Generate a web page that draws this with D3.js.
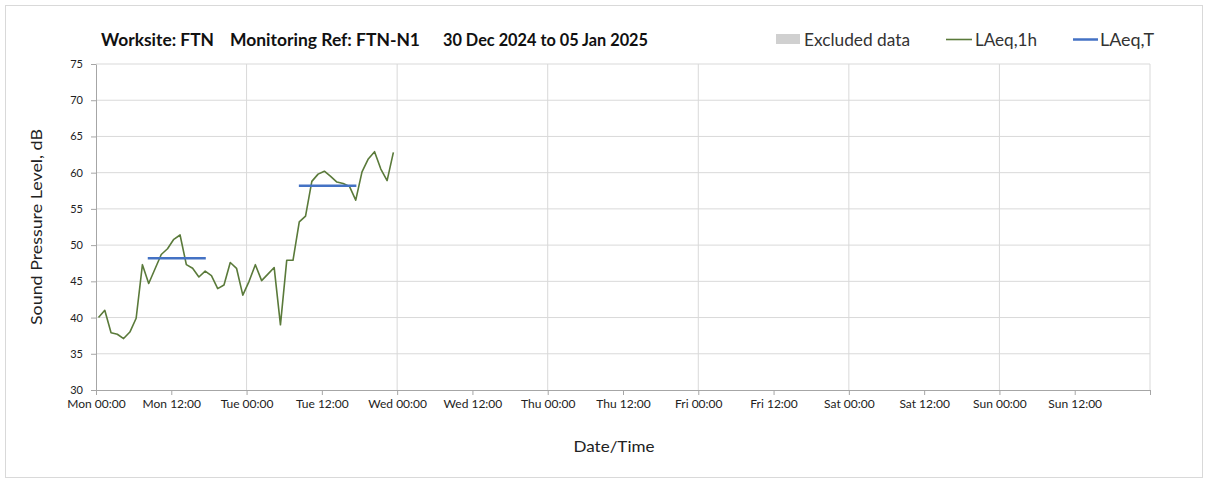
<!DOCTYPE html>
<html>
<head>
<meta charset="utf-8">
<script src="https://cdn.jsdelivr.net/npm/d3@7"></script>
<style>
  body { margin: 0; background: #fff; font-family: Lato, "Open Sans", sans-serif; }
  .tick text { font-family: Lato, sans-serif; fill: #222; }
</style>
</head>
<body>
<div id="chart"></div>
<script>
var svgWidth = 1208;
var svgHeight = 481;

var margin = { top: 64, right: 58, bottom: 91, left: 96 };
var width = svgWidth - margin.left - margin.right;
var height = svgHeight - margin.top - margin.bottom;

// chart data
var titleParts = ["Worksite: FTN", "Monitoring Ref: FTN-N1", "30 Dec 2024 to 05 Jan 2025"];
var legendLabels = ["Excluded data", "LAeq,1h", "LAeq,T"];
var yTicks = [30, 35, 40, 45, 50, 55, 60, 65, 70, 75];
var periodStart = "2024-12-30T00:00";
var periodEnd = "2025-01-06T00:00";
var hourlyStart = "2024-12-30T00:24";  // first hourly LAeq point
var laeq1h = [
  40.0, 41.0, 37.9, 37.7, 37.1, 38.0, 39.9, 47.3, 44.7, 46.7, 48.7, 49.5,
  50.8, 51.4, 47.3, 46.8, 45.6, 46.4, 45.8, 44.0, 44.5, 47.6, 46.8, 43.1,
  45.0, 47.3, 45.1, 46.0, 46.9, 39.0, 47.9, 47.9, 53.2, 54.0, 58.8, 59.8,
  60.2, 59.5, 58.7, 58.5, 58.1, 56.2, 60.1, 61.9, 62.9, 60.5, 58.9, 62.8
];
var laeqTStart = ["2024-12-30T08:15", "2024-12-31T08:20"];
var laeqTEnd = ["2024-12-30T17:30", "2024-12-31T17:30"];
var laeqTValue = [48.2, 58.2];

var parseTime = d3.timeParse("%Y-%m-%dT%H:%M");
var t0 = parseTime(hourlyStart);
var hourly = laeq1h.map(function(v, i) {
  return { time: d3.timeHour.offset(t0, i), value: v };
});
var periods = laeqTValue.map(function(v, i) {
  return { start: parseTime(laeqTStart[i]), end: parseTime(laeqTEnd[i]), value: v };
});

var svg = d3.select("#chart")
  .append("svg")
  .attr("width", svgWidth)
  .attr("height", svgHeight);

// outer frame
svg.append("rect")
  .attr("x", 5.5).attr("y", 5.5)
  .attr("width", svgWidth - 11).attr("height", svgHeight - 9)
  .attr("fill", "none")
  .attr("stroke", "#d9d9d9");

var chartGroup = svg.append("g")
  .attr("transform", `translate(${margin.left}, ${margin.top})`);

var xScale = d3.scaleTime()
  .domain([parseTime(periodStart), parseTime(periodEnd)])
  .range([0, width]);

var yScale = d3.scaleLinear()
  .domain([30, 75])
  .range([height, 0]);

// horizontal gridlines
chartGroup.append("g")
  .selectAll("line")
  .data(yTicks.slice(1))
  .enter()
  .append("line")
  .attr("x1", 0).attr("x2", width)
  .attr("y1", d => yScale(d)).attr("y2", d => yScale(d))
  .attr("stroke", "#d9d9d9");

// vertical gridlines at midnight
var days = d3.timeDay.range(xScale.domain()[0], xScale.domain()[1]).slice(1);
days.push(xScale.domain()[1]);
chartGroup.append("g")
  .selectAll("line")
  .data(days)
  .enter()
  .append("line")
  .attr("x1", d => xScale(d)).attr("x2", d => xScale(d))
  .attr("y1", 0).attr("y2", height)
  .attr("stroke", "#d9d9d9");

// axes
var xTickValues = d3.timeHour.every(12).range(xScale.domain()[0], xScale.domain()[1]);
xTickValues.push(xScale.domain()[1]);
var bottomAxis = d3.axisBottom(xScale)
  .tickValues(xTickValues)
  .tickSize(5)
  .tickSizeOuter(0)
  .tickFormat(function(d) {
    return +d === +xScale.domain()[1] ? "" : d3.timeFormat("%a %H:%M")(d);
  });
var leftAxis = d3.axisLeft(yScale)
  .tickValues(yTicks)
  .tickSize(5)
  .tickSizeOuter(0);

var xAxisG = chartGroup.append("g")
  .attr("transform", `translate(0, ${height})`)
  .call(bottomAxis);
xAxisG.selectAll(".tick line").attr("stroke", "#a6a6a6").attr("y1", 0).attr("y2", 5);
xAxisG.select(".domain").attr("stroke", "#a6a6a6");
xAxisG.selectAll(".tick text").attr("y", 9).style("font-size", "12px");

var yAxisG = chartGroup.append("g").call(leftAxis);
yAxisG.selectAll(".tick line").attr("stroke", "#a6a6a6");
yAxisG.select(".domain").attr("stroke", "#a6a6a6");
yAxisG.selectAll(".tick text").attr("x", -13).style("font-size", "11px");

// LAeq,1h line
var line = d3.line()
  .x(d => xScale(d.time))
  .y(d => yScale(d.value));

chartGroup.append("path")
  .datum(hourly)
  .attr("d", line)
  .attr("fill", "none")
  .attr("stroke", "#5a7a3a")
  .attr("stroke-width", 1.6)
  .attr("stroke-linejoin", "round");

// LAeq,T segments
chartGroup.selectAll(".laeqT")
  .data(periods)
  .enter()
  .append("line")
  .attr("class", "laeqT")
  .attr("x1", d => xScale(d.start))
  .attr("x2", d => xScale(d.end))
  .attr("y1", d => yScale(d.value))
  .attr("y2", d => yScale(d.value))
  .attr("stroke", "#4472c4")
  .attr("stroke-width", 2.5);

// title
var titleX = [101, 230, 443];
var titleW = [113, 190, 205];
svg.append("g")
  .selectAll("text")
  .data(titleParts)
  .enter()
  .append("text")
  .attr("x", (d, i) => titleX[i])
  .attr("y", 46)
  .attr("textLength", (d, i) => titleW[i])
  .attr("lengthAdjust", "spacingAndGlyphs")
  .style("font-size", "16.5px")
  .style("font-weight", "bold")
  .attr("fill", "#111")
  .text(d => d);

// legend
var legend = svg.append("g").style("font-size", "17px").attr("fill", "#333");
legend.append("rect")
  .attr("x", 776).attr("y", 34).attr("width", 24).attr("height", 10)
  .attr("fill", "#d0d0d0");
legend.append("text").attr("x", 804).attr("y", 46)
  .attr("textLength", 106).attr("lengthAdjust", "spacingAndGlyphs").text(legendLabels[0]);
legend.append("line")
  .attr("x1", 946).attr("x2", 972).attr("y1", 39.5).attr("y2", 39.5)
  .attr("stroke", "#5a7a3a").attr("stroke-width", 1.6);
legend.append("text").attr("x", 975).attr("y", 46)
  .attr("textLength", 62).attr("lengthAdjust", "spacingAndGlyphs").text(legendLabels[1]);
legend.append("line")
  .attr("x1", 1073).attr("x2", 1098).attr("y1", 39.5).attr("y2", 39.5)
  .attr("stroke", "#4472c4").attr("stroke-width", 2.5);
legend.append("text").attr("x", 1100).attr("y", 46)
  .attr("textLength", 54).attr("lengthAdjust", "spacingAndGlyphs").text(legendLabels[2]);

// axis titles
chartGroup.append("text")
  .attr("transform", "rotate(-90)")
  .attr("x", -(yScale(52.5)))
  .attr("y", -54)
  .attr("textLength", 196)
  .attr("lengthAdjust", "spacingAndGlyphs")
  .style("text-anchor", "middle")
  .style("font-size", "16px")
  .attr("fill", "#222")
  .text("Sound Pressure Level, dB");

chartGroup.append("text")
  .attr("x", 518)
  .attr("y", height + 62)
  .attr("textLength", 81)
  .attr("lengthAdjust", "spacingAndGlyphs")
  .style("text-anchor", "middle")
  .style("font-size", "16px")
  .attr("fill", "#222")
  .text("Date/Time");
</script>
</body>
</html>
